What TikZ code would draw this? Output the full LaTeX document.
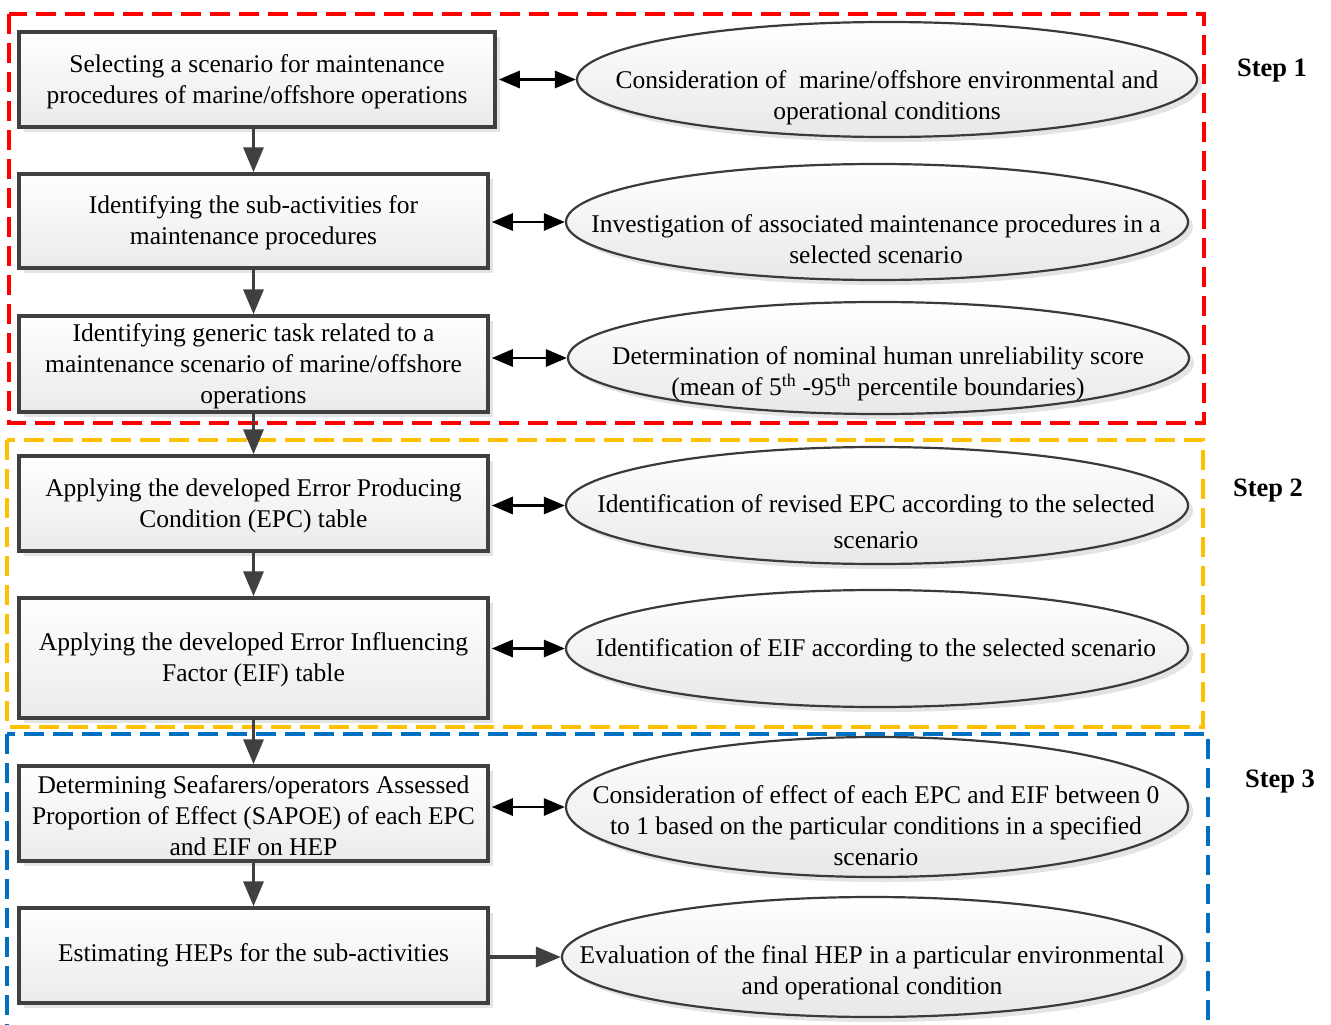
\documentclass[tikz,border=0pt]{standalone}
\usepackage{fontspec}
\setmainfont{Liberation Serif}
\usetikzlibrary{arrows.meta,shadows,shapes.geometric,calc}
\definecolor{boxline}{HTML}{404040}
\definecolor{ellline}{HTML}{3A3A3A}
\definecolor{fred}{HTML}{FF0000}
\definecolor{forange}{HTML}{FFC000}
\definecolor{fblue}{HTML}{0070C0}
\begin{document}
\begin{tikzpicture}[x=1pt,y=-1pt,
  every node/.style={font=\fontsize{25.5}{31}\selectfont},
  procbox/.style={rectangle, draw=boxline, line width=3.5pt, inner sep=0pt, align=center,
    top color=white, bottom color=gray!16,
    drop shadow={shadow xshift=5pt, shadow yshift=-5pt, fill=gray!35, opacity=0.6}},
  ellnode/.style={ellipse, draw=ellline, line width=2.2pt, inner sep=0pt,
    top color=white, bottom color=gray!18,
    drop shadow={shadow xshift=5pt, shadow yshift=-5pt, fill=gray!35, opacity=0.6}},
  elltext/.style={align=center, inner sep=0pt},
  frame/.style={line width=3.5pt, dash pattern=on 20pt off 9pt},
  downarrow/.style={draw=boxline, line width=3.5pt, -{Triangle[length=25pt,width=20pt]}},
  sidearrow/.style={draw=black, line width=2.8pt, {Triangle[length=21pt,width=17pt]}-{Triangle[length=21pt,width=17pt]}},
  steplabel/.style={font=\fontsize{26.5}{31}\selectfont\bfseries, inner sep=0pt}
]
\useasboundingbox (0,0) rectangle (1331,1025);

% frames
\draw[frame, draw=fred] (9,14) rectangle (1204,423);
\draw[frame, draw=forange] (7,440) rectangle (1203,727);
\draw[frame, draw=fblue] (7,734) rectangle (1208,1045);

% boxes
\node[procbox, minimum width=476pt, minimum height=95pt] (b1) at (257,79.5)
  {\strut Selecting a scenario for maintenance\\procedures of marine/offshore operations};
\node[procbox, minimum width=469pt, minimum height=94pt] (b2) at (253.5,221)
  {\strut Identifying the sub-activities for\\maintenance procedures};
\node[procbox, minimum width=469pt, minimum height=96pt] (b3) at (253.5,364)
  {\strut Identifying generic task related to a\\maintenance scenario of marine/offshore\\operations};
\node[procbox, minimum width=469pt, minimum height=95pt] (b4) at (253.5,503.5)
  {\strut Applying the developed Error Producing\\Condition (EPC) table};
\node[procbox, minimum width=469pt, minimum height=120pt] (b5) at (253.5,658)
  {\strut Applying the developed Error Influencing\\Factor (EIF) table};
\node[procbox, minimum width=469pt, minimum height=95pt] (b6) at (253.5,813.5)
  {\strut Determining Seafarers/operators Assessed\\Proportion of Effect (SAPOE) of each EPC\\and EIF on HEP};
\node[procbox, minimum width=469pt, minimum height=95pt] (b7) at (253.5,955.5)
  {\strut Estimating HEPs for the sub-activities};

% ellipses
\node[ellnode, minimum width=620pt, minimum height=115pt] (e1) at (887,79.5) {};
\node[ellnode, minimum width=622pt, minimum height=116pt] (e2) at (877,222) {};
\node[ellnode, minimum width=621pt, minimum height=112pt] (e3) at (878.5,358) {};
\node[ellnode, minimum width=622pt, minimum height=117pt] (e4) at (877,505.5) {};
\node[ellnode, minimum width=622pt, minimum height=117pt] (e5) at (877,648.5) {};
\node[ellnode, minimum width=622pt, minimum height=140pt] (e6) at (877,807) {};
\node[ellnode, minimum width=620pt, minimum height=120pt] (e7) at (872,957) {};

% ellipse texts
\node[elltext] (t1) at (887,97.5) {Consideration of \ marine/offshore environmental and\\operational conditions};
\node[elltext] (t2) at (876,239.5) {Investigation of associated maintenance procedures in a\\selected scenario};
\node[elltext] (t3) at (878,374) {Determination of nominal human unreliability score\\(mean of 5\textsuperscript{th} -95\textsuperscript{th} percentile boundaries)};
\node[elltext, font=\fontsize{25.5}{36}\selectfont] (t4) at (876,522) {Identification of revised EPC according to the selected\\scenario};
\node[elltext] (t5) at (876,650) {Identification of EIF according to the selected scenario};
\node[elltext] (t6) at (876,826) {Consideration of effect of each EPC and EIF between 0\\to 1 based on the particular conditions in a specified\\scenario};
\node[elltext] (t7) at (872,973) {Evaluation of the final HEP in a particular environmental\\and operational condition};

% step labels
\node[steplabel] (s1) at (1272,71) {Step 1};
\node[steplabel] (s2) at (1268,491) {Step 2};
\node[steplabel] (s3) at (1280,782) {Step 3};

% vertical arrows
\draw[downarrow] (b1.south -| b2.north) -- (b2.north);
\draw[downarrow] (b2) -- (b3);
\draw[downarrow] (b3) -- (b4);
\draw[downarrow] (b4) -- (b5);
\draw[downarrow] (b5) -- (b6);
\draw[downarrow] (b6) -- (b7);

% side arrows
\draw[sidearrow] (e1.west -| b1.east) ++(2,0) -- (e1.west);
\draw[sidearrow] (e2.west -| b2.east) ++(2,0) -- (e2.west);
\draw[sidearrow] (e3.west -| b3.east) ++(2,0) -- (e3.west);
\draw[sidearrow] (e4.west -| b4.east) ++(2,0) -- (e4.west);
\draw[sidearrow] (e5.west -| b5.east) ++(2,0) -- (e5.west);
\draw[sidearrow] (e6.west -| b6.east) ++(2,0) -- (e6.west);
\draw[downarrow] (e7.west -| b7.east) -- (e7.west);
\end{tikzpicture}
\end{document}
